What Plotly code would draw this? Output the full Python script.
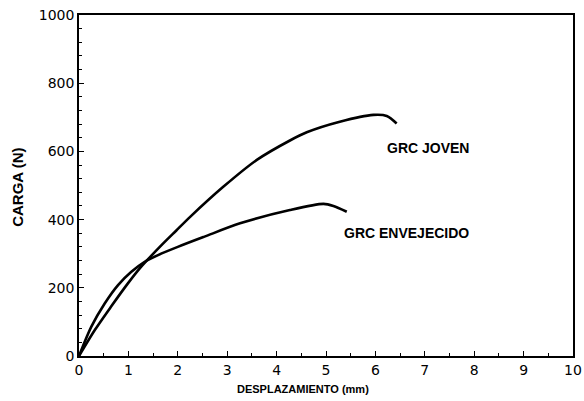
import plotly.graph_objects as go

# Data
joven_x = [0, 0.32, 0.65, 0.99, 1.26, 1.67, 1.97, 2.25, 2.92, 3.60, 4.27, 4.61, 5.28, 5.96, 6.23, 6.43]
joven_y = [0, 76, 145, 213, 262, 325, 368, 408, 496, 575, 632, 656, 687, 707, 704, 682]

envej_x = [0, 0.25, 0.52, 0.79, 1.06, 1.33, 1.60, 2.00, 2.54, 3.26, 4.27, 4.95, 5.15, 5.42]
envej_y = [0, 86, 154, 208, 247, 276, 296, 320, 350, 389, 428, 446, 440, 423]

x_ticks = list(range(0, 11))
y_ticks = [0, 200, 400, 600, 800, 1000]

labels = ["GRC JOVEN", "GRC ENVEJECIDO"]
label_x = [7.07, 6.63]
label_y = [610, 361]

fig = go.Figure()
for xs, ys in [(joven_x, joven_y), (envej_x, envej_y)]:
    fig.add_trace(go.Scatter(x=xs, y=ys, mode="lines",
                             line=dict(color="black", width=2.6, shape="spline", smoothing=0.8),
                             showlegend=False, hoverinfo="skip"))

for t, lx, ly in zip(labels, label_x, label_y):
    fig.add_annotation(x=lx, y=ly, text=t, showarrow=False,
                       font=dict(family="Liberation Sans", size=14, color="black", weight="bold"))

axis_common = dict(showgrid=False, zeroline=False, showline=True, linecolor="black",
                   linewidth=1.5, mirror=True, ticks="inside", tickcolor="black",
                   ticklen=5, tickwidth=1.2, automargin=False,
                   tickfont=dict(family="DejaVu Sans", size=14, color="black"))

fig.update_xaxes(range=[0, 10], tickvals=x_ticks, ticktext=[str(v) for v in x_ticks],
                 minor=dict(ticks="inside", dtick=0.5, ticklen=3, tickcolor="black"),
                 **axis_common)
fig.update_yaxes(range=[0, 1000], tickvals=y_ticks, ticktext=[str(v) for v in y_ticks],
                 minor=dict(ticks="inside", dtick=40, ticklen=3, tickcolor="black"),
                 **axis_common)

fig.add_annotation(xref="paper", yref="paper", x=0.453, y=-0.097, yanchor="middle",
                   text="DESPLAZAMIENTO (mm)", showarrow=False,
                   font=dict(family="Liberation Sans", size=11, color="black", weight="bold"))
fig.add_annotation(xref="paper", yref="paper", x=-0.1235, xanchor="center", y=0.496,
                   text="CARGA (N)", textangle=-90, showarrow=False,
                   font=dict(family="Liberation Sans", size=15, color="black", weight="bold"))

fig.update_layout(width=584, height=401, margin=dict(l=79, r=11, t=15, b=45),
                  plot_bgcolor="white", paper_bgcolor="white")

fig.write_html("out.html", config={"displayModeBar": False},
               post_script="document.body.style.margin='0';document.body.style.overflow='hidden';")
